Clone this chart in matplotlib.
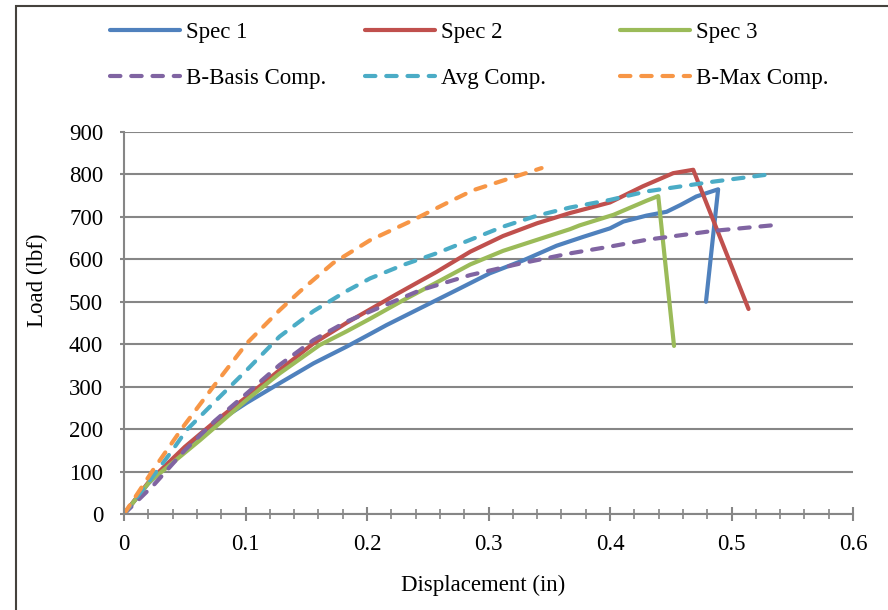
import matplotlib
matplotlib.use("Agg")
import matplotlib.pyplot as plt
from matplotlib.patches import Rectangle
from matplotlib.ticker import MultipleLocator, FuncFormatter

plt.rcParams['font.family'] = ['Liberation Serif', 'DejaVu Serif']

# Test curves (displacement in, load lbf)
spec1_x = [0, 0.02, 0.054, 0.071, 0.101, 0.128, 0.156, 0.183, 0.2025, 0.216, 0.246, 0.274,
           0.301, 0.329, 0.356, 0.378, 0.40, 0.411, 0.430, 0.4466, 0.458, 0.471, 0.489, 0.479]
spec1_y = [0, 72, 165, 206, 262, 308, 355, 394, 424, 445, 488, 528,
           567, 598, 632, 653, 673, 689, 703, 712, 728, 748, 765, 500]

spec2_x = [0, 0.021, 0.05, 0.075, 0.101, 0.128, 0.156, 0.183, 0.2025, 0.2244, 0.257, 0.285,
           0.312, 0.34, 0.367, 0.40, 0.427, 0.452, 0.4685, 0.514]
spec2_y = [0, 78, 158, 218, 276, 339, 402, 450, 482, 518, 570, 618,
           655, 685, 709, 734, 772, 803, 811, 483]

spec3_x = [0, 0.021, 0.0626, 0.101, 0.128, 0.161, 0.183, 0.2025, 0.23, 0.257, 0.285, 0.312,
           0.34, 0.367, 0.375, 0.403, 0.43, 0.4397, 0.4527]
spec3_y = [0, 76, 174, 269, 331, 398, 430, 460, 504, 545, 588, 620,
           646, 671, 680, 705, 738, 749, 396]

# Model predictions
bbasis_x = [0, 0.025, 0.05, 0.075, 0.101, 0.128, 0.156, 0.183, 0.2025, 0.2436, 0.285,
            0.326, 0.367, 0.40, 0.43, 0.485, 0.533]
bbasis_y = [0, 70, 150, 220, 284, 351, 410, 453, 477, 527, 563,
            590, 614, 630, 646, 667, 680]

avg_x = [0, 0.0214, 0.038, 0.0516, 0.0735, 0.101, 0.128, 0.156, 0.183, 0.2025, 0.23, 0.257,
         0.285, 0.312, 0.34, 0.367, 0.40, 0.43, 0.485, 0.528]
avg_y = [0, 80, 143, 198, 261, 339, 418, 478, 525, 555, 587, 614,
         646, 677, 703, 722, 740, 760, 783, 799]

bmax_x = [0, 0.024, 0.0488, 0.0735, 0.101, 0.128, 0.145, 0.172, 0.2025, 0.2354, 0.268, 0.2875,
          0.3437]
bmax_y = [0, 104, 206, 300, 402, 480, 525, 591, 645, 689, 736, 763, 815]

fig = plt.figure(figsize=(8.88, 6.10), dpi=100)
ax = fig.add_axes([124 / 888, 1 - 514 / 610, 729 / 888, 382 / 610])

lw = 3
solid = dict(lw=lw, solid_capstyle='round', solid_joinstyle='round')
dash = dict(lw=lw, dashes=(2.5, 2.6), dash_capstyle='round')

h1, = ax.plot(spec1_x, spec1_y, color='#4F81BD', label='Spec 1', **solid)
h2, = ax.plot(spec2_x, spec2_y, color='#C0504D', label='Spec 2', **solid)
h3, = ax.plot(spec3_x, spec3_y, color='#9BBB59', label='Spec 3', **solid)
h4, = ax.plot(bbasis_x, bbasis_y, color='#8064A2', label='B-Basis Comp.', **dash)
h5, = ax.plot(avg_x, avg_y, color='#4BACC6', label='Avg Comp.', **dash)
h6, = ax.plot(bmax_x, bmax_y, color='#F79646', label='B-Max Comp.', **dash)

ax.set_xlim(0, 0.6)
ax.set_ylim(0, 900)
ax.xaxis.set_major_locator(MultipleLocator(0.1))
ax.xaxis.set_minor_locator(MultipleLocator(0.02))
ax.yaxis.set_major_locator(MultipleLocator(100))
ax.xaxis.set_major_formatter(FuncFormatter(lambda v, p: f'{v:g}'))

fs = 16.5
gray = '#868686'
ax.grid(axis='y', color=gray, lw=1.5)
ax.set_axisbelow(True)
for s in ['top', 'right']:
    ax.spines[s].set_visible(False)
for s in ['left', 'bottom']:
    ax.spines[s].set_color(gray)
    ax.spines[s].set_linewidth(1.5)
ax.tick_params(axis='x', which='major', direction='inout', length=9.5, width=1.5,
               color=gray, labelsize=fs, pad=10)
ax.tick_params(axis='x', which='minor', direction='inout', length=6.5, width=1.2, color=gray)
ax.tick_params(axis='y', direction='out', length=3, width=1.5, color=gray,
               labelsize=fs, pad=12)

ax.set_xlabel('Displacement (in)', fontsize=fs)
ax.set_ylabel('Load (lbf)', fontsize=fs)
ax.xaxis.set_label_coords(0.492, -0.158)
ax.yaxis.set_label_coords(-0.104, 0.613)

# legend, three equal-width columns
cols = [(h1, h4), (h2, h5), (h3, h6)]
for i, (a, b) in enumerate(cols):
    fig.legend([a, b], [a.get_label(), b.get_label()], loc='center left',
               bbox_to_anchor=((110 + 255 * i) / 888, 1 - 55.5 / 610),
               frameon=False, fontsize=fs, handlelength=3.05, handletextpad=0.25,
               labelspacing=1.08, borderpad=0, borderaxespad=0)

# chart border
fig.patches.append(Rectangle((16 / 888, -0.1), 1.2, 1 - 6 / 610 + 0.1,
                             transform=fig.transFigure, fill=False,
                             edgecolor='#45423d', lw=1.5, clip_on=False))

fig.savefig('out.png', dpi=100)
